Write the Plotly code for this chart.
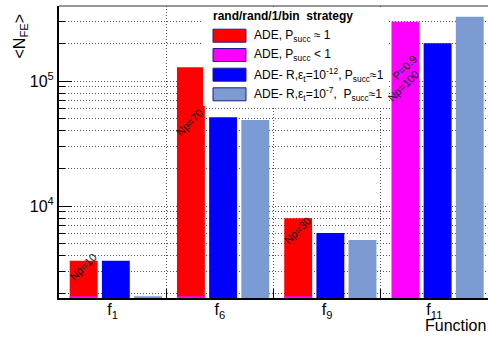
import math
import plotly.graph_objects as go

# ---- data -------------------------------------------------------------
functions = ["f<sub>1</sub>", "f<sub>6</sub>", "f<sub>9</sub>", "f<sub>11</sub>"]

# mean number of function evaluations per strategy variant
ade_p1 = [3650, 129000, 7980, None]          # ADE, P_succ ~ 1
ade_plt1 = [1900, 1900, 1900, 298000]        # ADE, P_succ < 1
ade_r12 = [3650, 51300, 6080, 200000]        # ADE-R, eps_t = 1e-12
ade_r7 = [1900, 48700, 5350, 327000]         # ADE-R, eps_t = 1e-7

series_names = [
    "ADE, P<sub>succ</sub> ≈ 1",
    "ADE, P<sub>succ</sub> &lt; 1",
    "ADE- R,ε<sub>t</sub>=10<sup>-12</sup>, P<sub>succ</sub>≈1",
    "ADE- R,ε<sub>t</sub>=10<sup>-7</sup>,&nbsp; P<sub>succ</sub>≈1",
]
series_colors = ["#ff0000", "#ff00ff", "#0000ff", "#7b9bd2"]
series_values = [ade_p1, ade_plt1, ade_r12, ade_r7]
bar_offsets = [-0.4, -0.4, -0.1, 0.2]
bar_width = 0.26

# population-size notes drawn on the bars: (text, x, log10 y)
notes = [
    ("Np=10", -0.276, 3.512),
    ("Np=70", 0.721, 4.672),
    ("Np=30", 1.728, 3.808),
    ("P=0.9", 2.726, 5.112),
    ("Np=100", 2.708, 4.960),
]

y_min, y_max = 1840, 398000
minor_vals = [m * 10 ** e for e in (3, 4) for m in range(2, 10)] + [2e5, 3e5]

FONT = "Liberation Sans, Arial, Helvetica, sans-serif"
GRID = "#555555"
DOTS = "1px,2px"

# plot-area geometry in pixels (used for the hand-drawn legend)
W, H = 488, 342
L, R, T, B = 59, 0, 6, 44
PW, PH = W - L - R, H - T - B


def px(x, y):
    """pixel position -> paper coordinates"""
    return (x - L) / PW, (H - B - y) / PH


fig = go.Figure()
for name, color, vals, off in zip(series_names, series_colors, series_values, bar_offsets):
    fig.add_trace(go.Bar(
        x=functions, y=vals, name=name,
        marker=dict(color=color, line=dict(width=0)),
        offset=off, width=bar_width, showlegend=False,
    ))

annotations = []
for text, x, ly in notes:
    annotations.append(dict(
        x=x, y=ly, xref="x", yref="y", text=text, showarrow=False,
        textangle=-45, font=dict(family=FONT, size=11, color="#111111"),
    ))

# axis titles
ax, ay = px(20, 12)
annotations.append(dict(
    x=ax, y=ay, xref="paper", yref="paper", text="&lt;N<sub>FE</sub>&gt;",
    showarrow=False, textangle=-90, xanchor="center", yanchor="top",
    font=dict(family=FONT, size=16, color="black"),
))
fx, fy = px(488, 325)
annotations.append(dict(
    x=fx, y=fy, xref="paper", yref="paper", text="Function",
    showarrow=False, xanchor="right", yanchor="middle",
    font=dict(family=FONT, size=16, color="black"),
))

# legend: white panel, title, colour boxes and labels
shapes = []
x0, y0 = px(203, 7)
x1, y1 = px(389, 106)
shapes.append(dict(type="rect", xref="paper", yref="paper", x0=x0, y0=y1, x1=x1, y1=y0,
                   fillcolor="white", line=dict(width=0), layer="above"))
tx, ty = px(211, 16)
annotations.append(dict(
    x=tx, y=ty, xref="paper", yref="paper",
    text="<b>rand/rand/1/bin&nbsp; strategy</b>", showarrow=False,
    xanchor="left", yanchor="middle", font=dict(family=FONT, size=12, color="black"),
))
row_y = [35.7, 55.0, 74.7, 94.3]
for name, color, cy in zip(series_names, series_colors, row_y):
    bx0, by0 = px(213, cy - 6.5)
    bx1, by1 = px(246, cy + 6.5)
    shapes.append(dict(type="rect", xref="paper", yref="paper",
                       x0=bx0, y0=by1, x1=bx1, y1=by0, fillcolor=color,
                       line=dict(color="#1c1c8c", width=1), layer="above"))
    lx, ly = px(252, cy)
    annotations.append(dict(
        x=lx, y=ly, xref="paper", yref="paper", text=name, showarrow=False,
        xanchor="left", yanchor="middle", font=dict(family=FONT, size=12, color="black"),
    ))

# top frame line
shapes.insert(0, dict(type="line", xref="paper", yref="paper", x0=0, x1=1, y0=1, y1=1,
                      line=dict(color="#333333", width=1)))

fig.update_layout(
    width=W, height=H,
    margin=dict(l=L, r=R, t=T, b=B, pad=0),
    paper_bgcolor="white", plot_bgcolor="white",
    barmode="overlay", showlegend=False,
    font=dict(family=FONT, size=16, color="black"),
    annotations=annotations, shapes=shapes,
    xaxis=dict(
        type="category", range=[-0.5, 3.5], tickson="boundaries",
        ticks="inside", ticklen=9, tickwidth=1, tickcolor="black",
        showline=True, linewidth=2, linecolor="black",
        showgrid=True, gridcolor=GRID, griddash=DOTS, gridwidth=1,
        tickfont=dict(family=FONT, size=16, color="black"), zeroline=False,
        ticklabelstandoff=-4,
    ),
    yaxis=dict(
        type="log", range=[math.log10(y_min), math.log10(y_max)],
        tickmode="array", tickvals=[1e4, 1e5],
        ticktext=["10<sup>4</sup>", "10<sup>5</sup>"],
        ticks="inside", ticklen=13, tickwidth=1, tickcolor="black",
        showline=True, linewidth=2, linecolor="black",
        showgrid=True, gridcolor=GRID, griddash=DOTS, gridwidth=1,
        tickfont=dict(family=FONT, size=16, color="black"), zeroline=False,
        minor=dict(tickmode="array", tickvals=minor_vals, ticks="inside", ticklen=6,
                   tickwidth=1, tickcolor="black", showgrid=True,
                   gridcolor=GRID, griddash=DOTS, gridwidth=1),
    ),
)

fig.write_html("out.html")
